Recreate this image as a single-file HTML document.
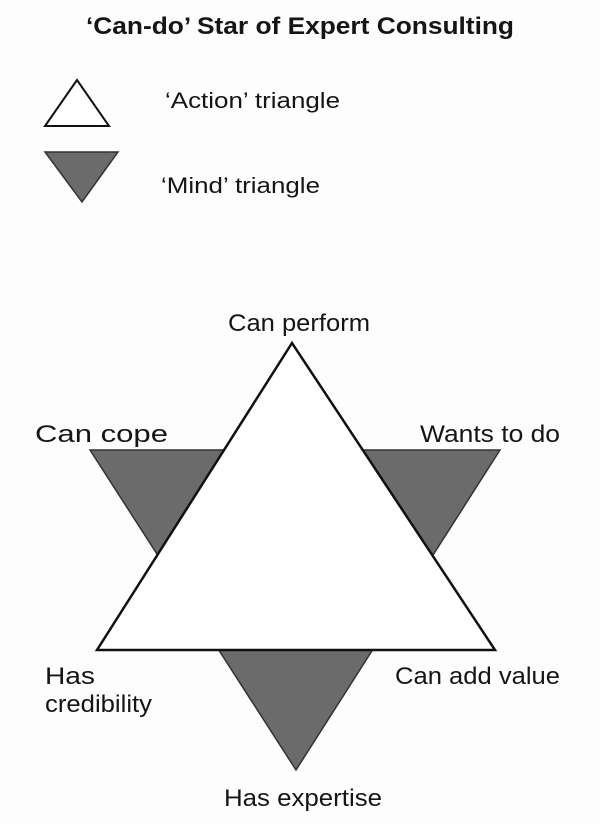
<!DOCTYPE html>
<html><head><meta charset="utf-8"><style>
html,body{margin:0;padding:0;background:#fff;}
body{width:600px;height:823px;overflow:hidden;}
</style></head><body>
<svg width="600" height="823" viewBox="0 0 600 823" xmlns="http://www.w3.org/2000/svg" font-family="Liberation Sans, Arial, sans-serif" fill="#151515">
<rect width="600" height="823" fill="#fdfdfd"/>
<text x="86" y="34" font-size="24" font-weight="bold" textLength="428" lengthAdjust="spacingAndGlyphs">‘Can-do’ Star of Expert Consulting</text>
<polygon points="77,80 45,126 109,126" fill="#fff" stroke="#111" stroke-width="2"/>
<text x="165" y="108" font-size="22" textLength="175" lengthAdjust="spacingAndGlyphs">‘Action’ triangle</text>
<polygon points="45,152 118,152 82,202" fill="#6b6b6b" stroke="#333" stroke-width="1.5"/>
<text x="161" y="193" font-size="22" textLength="159" lengthAdjust="spacingAndGlyphs">‘Mind’ triangle</text>
<polygon points="90,450 500,450 296,770" fill="#6b6b6b" stroke="#333" stroke-width="1.5"/>
<polygon points="292,343 97,650 495,650" fill="#fff" stroke="#111" stroke-width="2.5"/>
<g font-size="24">
<text x="228" y="331" textLength="142" lengthAdjust="spacingAndGlyphs">Can perform</text>
<text x="35" y="442" textLength="133" lengthAdjust="spacingAndGlyphs">Can cope</text>
<text x="420" y="442" textLength="140" lengthAdjust="spacingAndGlyphs">Wants to do</text>
<text x="45" y="684" textLength="50" lengthAdjust="spacingAndGlyphs">Has</text>
<text x="45" y="712" textLength="107" lengthAdjust="spacingAndGlyphs">credibility</text>
<text x="395" y="684" textLength="165" lengthAdjust="spacingAndGlyphs">Can add value</text>
<text x="224" y="806" textLength="158" lengthAdjust="spacingAndGlyphs">Has expertise</text>
</g>
</svg>
</body></html>
